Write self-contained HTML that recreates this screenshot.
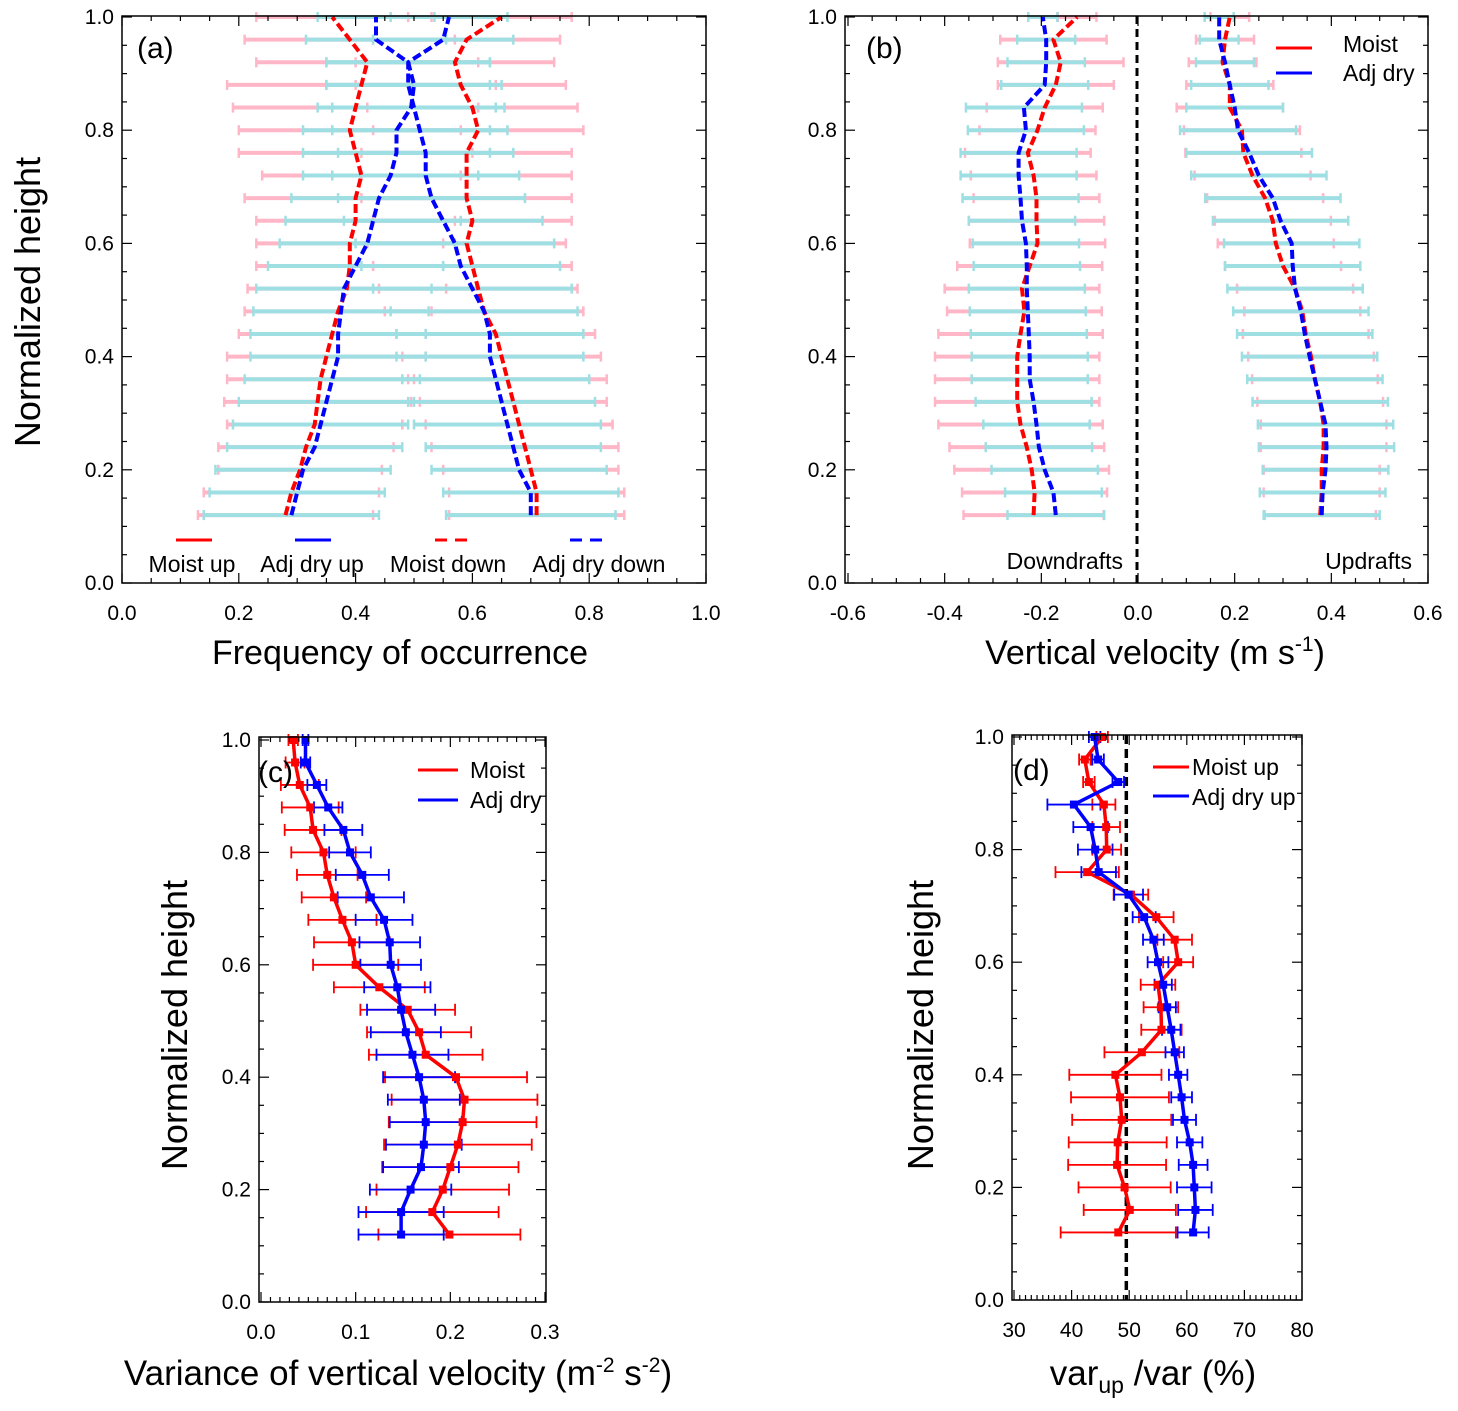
<!DOCTYPE html>
<html><head><meta charset="utf-8">
<style>
html,body{margin:0;padding:0;background:#fff;}
svg{display:block;font-family:"Liberation Sans",sans-serif;}
</style></head>
<body>
<svg id="fig" width="1458" height="1411" viewBox="0 0 1458 1411" xmlns="http://www.w3.org/2000/svg">
<g id="layer"></g>
</svg>
<script>
// ---------- data ----------
const heights = [0.12,0.16,0.20,0.24,0.28,0.32,0.36,0.40,0.44,0.48,0.52,0.56,0.60,0.64,0.68,0.72,0.76,0.80,0.84,0.88,0.92,0.96,1.00];
// panel a: frequency of occurrence
const aMoistUp = [0.28,0.29,0.305,0.315,0.33,0.335,0.34,0.35,0.36,0.37,0.385,0.39,0.39,0.40,0.40,0.41,0.40,0.39,0.40,0.41,0.42,0.39,0.36];
const aMoistUpErr = [0.15,0.15,0.14,0.15,0.15,0.16,0.16,0.17,0.16,0.16,0.17,0.16,0.16,0.17,0.19,0.17,0.20,0.19,0.21,0.23,0.19,0.18,0.13];
const aDryUp = [0.29,0.30,0.31,0.33,0.34,0.35,0.36,0.37,0.37,0.375,0.38,0.40,0.42,0.43,0.44,0.46,0.47,0.47,0.495,0.50,0.49,0.435,0.435];
const aDryUpErr = [0.15,0.15,0.15,0.15,0.15,0.15,0.15,0.15,0.15,0.15,0.15,0.15,0.15,0.15,0.15,0.15,0.16,0.16,0.16,0.15,0.14,0.12,0.10];
const aMoistDown = [0.71,0.71,0.70,0.69,0.68,0.67,0.66,0.65,0.64,0.62,0.61,0.60,0.59,0.60,0.59,0.59,0.59,0.61,0.60,0.58,0.57,0.59,0.65];
const aMoistDownErr = [0.15,0.15,0.15,0.16,0.16,0.16,0.17,0.17,0.17,0.17,0.17,0.17,0.17,0.17,0.18,0.18,0.18,0.18,0.18,0.18,0.17,0.16,0.12];
const aDryDown = [0.70,0.70,0.68,0.67,0.66,0.65,0.64,0.63,0.63,0.62,0.60,0.58,0.57,0.55,0.53,0.52,0.52,0.51,0.50,0.49,0.49,0.55,0.56];
const aDryDownErr = [0.145,0.15,0.15,0.15,0.16,0.16,0.16,0.16,0.16,0.16,0.17,0.17,0.17,0.17,0.16,0.16,0.15,0.15,0.14,0.14,0.14,0.12,0.10];
// panel b: vertical velocity
const bMoistDown = [-0.216,-0.214,-0.22,-0.23,-0.243,-0.25,-0.25,-0.25,-0.243,-0.235,-0.24,-0.224,-0.208,-0.21,-0.21,-0.216,-0.228,-0.208,-0.193,-0.17,-0.16,-0.175,-0.126];
const bMoistDownErr = [0.145,0.15,0.16,0.16,0.17,0.17,0.17,0.17,0.17,0.16,0.16,0.15,0.14,0.14,0.13,0.13,0.13,0.12,0.12,0.12,0.13,0.11,0.04];
const bDryDown = [-0.17,-0.175,-0.193,-0.205,-0.21,-0.216,-0.224,-0.224,-0.226,-0.228,-0.23,-0.23,-0.232,-0.24,-0.243,-0.247,-0.247,-0.232,-0.236,-0.193,-0.19,-0.19,-0.197];
const bDryDownErr = [0.10,0.10,0.11,0.11,0.11,0.12,0.12,0.12,0.12,0.12,0.12,0.11,0.11,0.11,0.12,0.12,0.12,0.12,0.12,0.09,0.08,0.06,0.03];
const bMoistUp = [0.377,0.38,0.38,0.384,0.384,0.377,0.366,0.358,0.347,0.34,0.325,0.30,0.285,0.279,0.263,0.237,0.218,0.215,0.19,0.19,0.175,0.18,0.19];
const bMoistUpErr = [0.115,0.12,0.12,0.13,0.13,0.13,0.13,0.13,0.13,0.12,0.12,0.12,0.12,0.12,0.12,0.12,0.12,0.12,0.11,0.09,0.07,0.06,0.04];
const bDryUp = [0.38,0.382,0.388,0.39,0.388,0.377,0.366,0.355,0.345,0.337,0.325,0.32,0.318,0.295,0.279,0.25,0.23,0.207,0.20,0.19,0.18,0.168,0.168];
const bDryUpErr = [0.12,0.13,0.13,0.14,0.14,0.14,0.14,0.14,0.14,0.14,0.14,0.14,0.14,0.14,0.14,0.14,0.13,0.12,0.10,0.08,0.06,0.04,0.03];
// panel c: variance
const cMoist = [0.199,0.181,0.192,0.20,0.208,0.213,0.215,0.206,0.174,0.167,0.155,0.125,0.10,0.096,0.086,0.077,0.07,0.066,0.055,0.052,0.041,0.036,0.034];
const cMoistErr = [0.075,0.07,0.07,0.072,0.078,0.078,0.077,0.075,0.06,0.055,0.05,0.048,0.045,0.04,0.036,0.034,0.032,0.034,0.03,0.03,0.02,0.01,0.005];
const cDry = [0.148,0.148,0.158,0.169,0.172,0.174,0.172,0.167,0.16,0.153,0.148,0.144,0.137,0.136,0.13,0.116,0.107,0.094,0.087,0.071,0.059,0.047,0.047];
const cDryErr = [0.045,0.045,0.043,0.04,0.04,0.038,0.038,0.038,0.038,0.037,0.036,0.035,0.032,0.032,0.03,0.035,0.028,0.022,0.02,0.015,0.01,0.005,0.003];
// panel d: var_up/var
const dMoist = [48.1,50.1,49.2,47.9,48.0,48.7,48.4,47.6,52.2,55.6,55.5,55.0,58.5,57.9,54.7,50.3,42.7,46.1,46.0,45.6,43.0,42.3,45.3];
const dMoistErr = [10,8,8,8.5,8.5,8.6,8.5,8,6.5,3.5,3,3,2.6,3,3,3,5.5,2.5,2.4,2,1,1,1];
const dDry = [61.1,61.5,61.3,61.1,60.5,59.6,59.1,58.5,57.9,57.3,56.6,55.9,55.0,54.2,52.6,49.9,44.7,44.1,43.3,40.4,48.1,44.6,44.0];
const dDryErr = [2.7,3,3,2.5,2.2,2,1.8,1.6,1.6,1.6,1.5,1.5,1.8,1.8,2,2.5,3,3,3,4.6,1,1,1];
const aTicks = ["0.0","0.2","0.4","0.6","0.8","1.0"];
const bTicks = ["-0.6","-0.4","-0.2","0.0","0.2","0.4","0.6"];
const cTicks = ["0.0","0.1","0.2","0.3"];
const dTicks = ["30","40","50","60","70","80"];

// ---------- helpers ----------
const NS = "http://www.w3.org/2000/svg";
const root = document.getElementById('layer');
function mk(tag, attrs, parent){
  const e = document.createElementNS(NS, tag);
  for (const k in attrs) e.setAttribute(k, attrs[k]);
  (parent||root).appendChild(e);
  return e;
}
function axis(px0, px1, v0, v1){ return v => px0 + (v - v0) / (v1 - v0) * (px1 - px0); }

function frame(P, xTickLabels, xMinor, yMinor, name){
  const g = mk('g', {});
  
  
  const r = mk('rect', {x:P.bx0, y:P.by0, width:P.bx1-P.bx0, height:P.by1-P.by0, fill:'none', stroke:'#000', 'stroke-width':1.5}, g);
  
  
  const xv = xTickLabels.map(Number);
  const xs = xv[0], xe = xv[xv.length-1];
  for (let v = xs; v <= xe + 1e-9; v += xMinor){
    const major = xv.some(t => Math.abs(t - v) < 1e-6);
    const L = major ? 10 : 5;
    const x = P.sx(v);
    mk('line', {x1:x, x2:x, y1:P.by1, y2:P.by1-L, stroke:'#000','stroke-width':1.2}, g);
    mk('line', {x1:x, x2:x, y1:P.by0, y2:P.by0+L, stroke:'#000','stroke-width':1.2}, g);
  }
  xTickLabels.forEach(t => {
    const tx = mk('text', {x:P.sx(Number(t)), y:P.by1+37, 'font-size':21, 'text-anchor':'middle'}, g);
    tx.textContent = t;
    
    
  });
  const yLabels = ["0.0","0.2","0.4","0.6","0.8","1.0"];
  for (let v = 0; v <= 1.0001; v += yMinor){
    const major = Math.abs(v*5 - Math.round(v*5)) < 1e-6;
    const L = major ? 10 : 5;
    const y = P.sy(v);
    mk('line', {x1:P.bx0, x2:P.bx0+L, y1:y, y2:y, stroke:'#000','stroke-width':1.2}, g);
    mk('line', {x1:P.bx1, x2:P.bx1-L, y1:y, y2:y, stroke:'#000','stroke-width':1.2}, g);
  }
  yLabels.forEach(t => {
    const tx = mk('text', {x:P.bx0-8, y:P.sy(Number(t))+7, 'font-size':21, 'text-anchor':'end'}, g);
    tx.textContent = t;
    
    
  });
}

function errbars(P, vals, errs, color, w, cap, name){
  const g = mk('g', {});
  
  
  heights.forEach((h, i) => {
    const y = P.sy(h), xl = P.sx(vals[i]-errs[i]), xr = P.sx(vals[i]+errs[i]);
    mk('line', {x1:xl, x2:xr, y1:y, y2:y, stroke:color, 'stroke-width':w}, g);
    mk('line', {x1:xl, x2:xl, y1:y-cap, y2:y+cap, stroke:color, 'stroke-width':Math.min(w,2.5)}, g);
    mk('line', {x1:xr, x2:xr, y1:y-cap, y2:y+cap, stroke:color, 'stroke-width':Math.min(w,2.5)}, g);
  });
}
function series(P, vals, color, w, dash, markers, name){
  const pts = heights.map((h,i) => P.sx(vals[i]).toFixed(1) + ',' + P.sy(h).toFixed(1)).join(' ');
  const pl = mk('polyline', {points:pts, fill:'none', stroke:color, 'stroke-width':w, 'stroke-dasharray':dash||'none', 'stroke-linejoin':'round'});
  
  
  if (markers){
    heights.forEach((h,i) => {
      const m = mk('rect', {x:P.sx(vals[i])-4, y:P.sy(h)-4, width:8, height:8, fill:color});
      
      
    });
  }
}
function text(x, y, s, size, name, anchor, rot){
  const t = mk('text', {x:x, y:y, 'font-size':size, 'text-anchor':anchor||'start'});
  if (rot) t.setAttribute('transform', 'rotate(-90 ' + x + ' ' + y + ')');
  t.textContent = s;
  
  
  return t;
}
function legLine(x1, x2, y, color, dash, name){
  const l = mk('line', {x1:x1, x2:x2, y1:y, y2:y, stroke:color, 'stroke-width':3, 'stroke-dasharray':dash||'none'});
  
  
}
const PINK = '#ffb6c6', CYAN = '#9edfe3';

// ---------- panel a ----------
const A = {bx0:122, bx1:706, by0:16, by1:583, sx:axis(122,706,0,1), sy:axis(583,17,0,1)};
errbars(A, aMoistUp, aMoistUpErr, PINK, 4, 5, 'a-moist-up-errorbars');
errbars(A, aMoistDown, aMoistDownErr, PINK, 4, 5, 'a-moist-down-errorbars');
errbars(A, aDryUp, aDryUpErr, CYAN, 4, 5, 'a-dry-up-errorbars');
errbars(A, aDryDown, aDryDownErr, CYAN, 4, 5, 'a-dry-down-errorbars');
series(A, aMoistUp, '#ff0000', 4, '9,4', false, 'a-moist-up-line');
series(A, aDryUp, '#0000ff', 4, '9,4', false, 'a-dry-up-line');
series(A, aMoistDown, '#ff0000', 4, '9,4', false, 'a-moist-down-line');
series(A, aDryDown, '#0000ff', 4, '9,4', false, 'a-dry-down-line');
frame(A, aTicks, 0.05, 0.05, 'a');
text(137, 58, '(a)', 30, 'a-panel-label');
legLine(176, 212, 540, '#ff0000', null, 'a-legend-moist-up-line');
legLine(295, 331, 540, '#0000ff', null, 'a-legend-dry-up-line');
legLine(435, 467, 540, '#ff0000', '12,8', 'a-legend-moist-down-line');
legLine(570, 602, 540, '#0000ff', '12,8', 'a-legend-dry-down-line');
text(192, 572, 'Moist up', 23, 'a-legend-moist-up', 'middle');
text(312, 572, 'Adj dry up', 23, 'a-legend-dry-up', 'middle');
text(448, 572, 'Moist down', 23, 'a-legend-moist-down', 'middle');
text(599, 572, 'Adj dry down', 23, 'a-legend-dry-down', 'middle');
text(400, 664, 'Frequency of occurrence', 34, 'a-x-axis-title', 'middle');
text(40, 302, 'Normalized height', 36, 'a-y-axis-title', 'middle', true);

// ---------- panel b ----------
const B = {bx0:845, bx1:1428, by0:16, by1:583, sx:axis(848,1428,-0.6,0.6), sy:axis(583,17,0,1)};
errbars(B, bMoistDown, bMoistDownErr, PINK, 4, 5, 'b-moist-down-errorbars');
errbars(B, bMoistUp, bMoistUpErr, PINK, 4, 5, 'b-moist-up-errorbars');
errbars(B, bDryDown, bDryDownErr, CYAN, 4, 5, 'b-dry-down-errorbars');
errbars(B, bDryUp, bDryUpErr, CYAN, 4, 5, 'b-dry-up-errorbars');
series(B, bMoistDown, '#ff0000', 4, '9,4', false, 'b-moist-down-line');
series(B, bDryDown, '#0000ff', 4, '9,4', false, 'b-dry-down-line');
series(B, bMoistUp, '#ff0000', 4, '9,4', false, 'b-moist-up-line');
series(B, bDryUp, '#0000ff', 4, '9,4', false, 'b-dry-up-line');
{
  const z = mk('line', {x1:B.sx(0)-1, x2:B.sx(0)-1, y1:16, y2:583, stroke:'#000', 'stroke-width':3, 'stroke-dasharray':'8,5'});
  
  
}
frame(B, bTicks, 0.05, 0.05, 'b');
text(866, 58, '(b)', 30, 'b-panel-label');
legLine(1276, 1312, 48, '#ff0000', null, 'b-legend-moist-line');
legLine(1276, 1312, 73, '#0000ff', null, 'b-legend-dry-line');
text(1343, 52, 'Moist', 23, 'b-legend-moist');
text(1343, 81, 'Adj dry', 23, 'b-legend-dry');
text(1123, 569, 'Downdrafts', 23, 'b-downdrafts-label', 'end');
text(1412, 569, 'Updrafts', 23, 'b-updrafts-label', 'end');
{
  const t = text(1155, 664, 'Vertical velocity (m s', 34, 'b-x-axis-title', 'middle');
  const s = mk('tspan', {'font-size':21, dy:-13}, t); s.textContent = '-1';
  const e = mk('tspan', {dy:13}, t); e.textContent = ')';
}

// ---------- panel c ----------
const C = {bx0:259, bx1:546, by0:737, by1:1302, sx:axis(261,545,0,0.3), sy:axis(1302,740,0,1)};
errbars(C, cMoist, cMoistErr, '#ff0000', 1.8, 6, 'c-moist-errorbars');
errbars(C, cDry, cDryErr, '#0000ff', 1.8, 6, 'c-dry-errorbars');
series(C, cMoist, '#ff0000', 3.5, null, true, 'c-moist-line');
series(C, cDry, '#0000ff', 3.5, null, true, 'c-dry-line');
frame(C, cTicks, 0.01, 0.05, 'c');
text(258, 782, '(c)', 30, 'c-panel-label');
legLine(418, 458, 770, '#ff0000', null, 'c-legend-moist-line');
legLine(418, 458, 800, '#0000ff', null, 'c-legend-dry-line');
text(470, 778, 'Moist', 23, 'c-legend-moist');
text(470, 808, 'Adj dry', 23, 'c-legend-dry');
{
  const t = text(398, 1385, 'Variance of vertical velocity (m', 35, 'c-x-axis-title', 'middle');
  const a = mk('tspan', {'font-size':21, dy:-13}, t); a.textContent = '-2';
  const b = mk('tspan', {dy:13}, t); b.textContent = ' s';
  const c = mk('tspan', {'font-size':21, dy:-13}, t); c.textContent = '-2';
  const d = mk('tspan', {dy:13}, t); d.textContent = ')';
}
text(187, 1025, 'Normalized height', 36, 'c-y-axis-title', 'middle', true);

// ---------- panel d ----------
const D = {bx0:1012, bx1:1302, by0:735, by1:1300, sx:axis(1014,1302,30,80), sy:axis(1300,737,0,1)};
{
  const z = mk('line', {x1:D.sx(49.5), x2:D.sx(49.5), y1:735, y2:1300, stroke:'#000', 'stroke-width':3.5, 'stroke-dasharray':'9,5'});
  
  
}
errbars(D, dMoist, dMoistErr, '#ff0000', 1.8, 6, 'd-moist-errorbars');
errbars(D, dDry, dDryErr, '#0000ff', 1.8, 6, 'd-dry-errorbars');
series(D, dMoist, '#ff0000', 3.5, null, true, 'd-moist-line');
series(D, dDry, '#0000ff', 3.5, null, true, 'd-dry-line');
frame(D, dTicks, 1, 0.05, 'd');
text(1013, 780, '(d)', 30, 'd-panel-label');
legLine(1153, 1189, 767, '#ff0000', null, 'd-legend-moist-line');
legLine(1153, 1189, 796, '#0000ff', null, 'd-legend-dry-line');
text(1192, 775, 'Moist up', 23, 'd-legend-moist');
text(1192, 805, 'Adj dry up', 23, 'd-legend-dry');
{
  const t = text(1153, 1385, 'var', 35, 'd-x-axis-title', 'middle');
  const a = mk('tspan', {'font-size':23, dy:8}, t); a.textContent = 'up';
  const b = mk('tspan', {dy:-8}, t); b.textContent = ' /var (%)';
}
text(933, 1025, 'Normalized height', 36, 'd-y-axis-title', 'middle', true);
</script>
</body></html>
